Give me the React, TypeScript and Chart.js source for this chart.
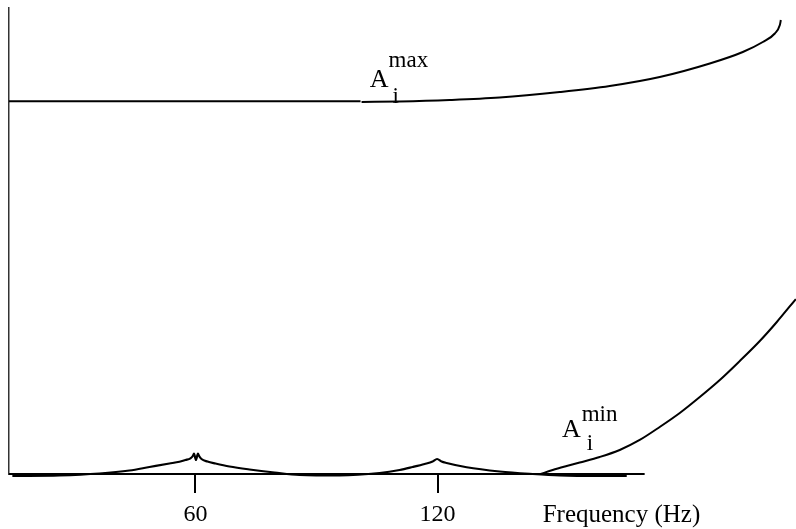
import React, { useEffect, useRef } from "react";
import { Chart, registerables } from "chart.js";

Chart.register(...registerables);

// ---- data (frequency in Hz, amplitude in arbitrary units 0..100) ----
const X_MIN = 13.8;
const X_MAX = 208.8;
const Y_MIN = 0;
const Y_MAX = 100;

const TICK_VALUES = [60, 120, 165.55];
const TICK_LABELS = ["60", "120", "Frequency (Hz)"];

const AXIS_HZ = [13.8, 171.3];
const AXIS_VAL = [0, 0];

const AMAX_FLAT_HZ = [13.8, 100.9];
const AMAX_FLAT_VAL = [80.0, 80.0];

const AMAX_CURVE_HZ = [101.16, 110.58, 122.97, 135.37, 150.25, 162.64, 175.04, 187.44, 195.62, 200.58, 203.55, 204.8, 205.04];
const AMAX_CURVE_VAL = [79.83, 79.94, 80.26, 80.79, 81.97, 83.26, 85.19, 88.09, 90.56, 92.7, 94.53, 96.35, 97.42];

const AMIN_LOW_HZ = [14.63, 26.28, 36.2, 43.64, 48.6, 53.55, 56.03, 57.52, 58.76, 59.38, 59.63, 60.12, 60.62, 60.87, 61.49, 62.98, 64.96, 68.43, 73.39, 79.59, 85.78, 95.7, 105.62, 110.58, 113.8, 116.78, 118.76, 119.87, 120.99, 122.23, 127.19, 135.37, 143.55, 150.25, 160.16, 166.86];
const AMIN_LOW_VAL = [-0.43, -0.32, 0.11, 0.75, 1.5, 2.25, 2.64, 3.0, 3.37, 3.91, 4.4, 3.0, 4.4, 3.91, 3.22, 2.68, 2.25, 1.61, 0.97, 0.32, -0.21, -0.32, 0.21, 0.86, 1.5, 2.15, 2.68, 3.22, 2.68, 2.36, 1.44, 0.54, 0.0, -0.32, -0.43, -0.43];

const AMIN_RISE_HZ = [145.54, 148.51, 151.98, 155.21, 160.16, 165.12, 170.08, 175.04, 180.0, 184.96, 189.92, 194.87, 199.83, 204.05, 208.76];
const AMIN_RISE_VAL = [0.0, 0.86, 1.72, 2.47, 3.65, 5.15, 7.3, 10.09, 13.09, 16.52, 20.17, 24.25, 28.54, 32.62, 37.55];

const FONT = '"Liberation Serif", "Times New Roman", serif';

const pts = (xs: number[], ys: number[]) => xs.map((x, i) => ({ x, y: ys[i] }));

const labelPlugin = {
  id: "curveLabels",
  afterDatasetsDraw(chart: any) {
    const { ctx, scales } = chart;
    const xs = scales.x;
    const ys = scales.y;
    const items: [string, number, number, number][] = [
      ["A", 103.2, 83.05, 26],
      ["max", 107.85, 87.34, 23],
      ["i", 108.84, 79.61, 23],
      ["A", 150.8, 7.94, 26],
      ["min", 155.7, 11.37, 23],
      ["i", 156.94, 5.15, 23],
    ];
    ctx.save();
    ctx.fillStyle = "#000";
    ctx.textAlign = "left";
    ctx.textBaseline = "alphabetic";
    for (const [t, hx, v, size] of items) {
      ctx.font = `${size}px ${FONT}`;
      ctx.fillText(t, xs.getPixelForValue(hx), ys.getPixelForValue(v));
    }
    ctx.restore();
  },
};

export default function App() {
  const ref = useRef<HTMLCanvasElement | null>(null);

  useEffect(() => {
    document.body.style.margin = "0";
    const canvas = ref.current;
    if (!canvas) return;
    const lineDs = (data: any, width = 2) => ({
      data,
      borderColor: "#000",
      borderWidth: width,
      pointRadius: 0,
      fill: false,
      cubicInterpolationMode: "monotone" as const,
      clip: false as any,
    });
    const chart = new Chart(canvas, {
      type: "line",
      data: {
        datasets: [
          lineDs(pts(AXIS_HZ, AXIS_VAL), 1.8),
          lineDs(pts(AMAX_FLAT_HZ, AMAX_FLAT_VAL)),
          lineDs(pts(AMAX_CURVE_HZ, AMAX_CURVE_VAL)),
          lineDs(pts(AMIN_LOW_HZ, AMIN_LOW_VAL), 2.2),
          lineDs(pts(AMIN_RISE_HZ, AMIN_RISE_VAL)),
        ],
      },
      options: {
        animation: false,
        responsive: true,
        maintainAspectRatio: false,
        layout: { padding: { left: 9, top: 8, right: 0, bottom: 0 } },
        plugins: { legend: { display: false }, tooltip: { enabled: false } },
        scales: {
          x: {
            type: "linear",
            min: X_MIN,
            max: X_MAX,
            afterBuildTicks: (scale: any) => {
              scale.ticks = TICK_VALUES.map((v) => ({ value: v }));
            },
            afterFit: (scale: any) => {
              scale.height = 55;
            },
            border: { display: false },
            grid: {
              display: true,
              drawOnChartArea: false,
              drawTicks: true,
              tickLength: 19,
              lineWidth: 2,
              tickColor: (c: any) => (c.index < 2 ? "#000" : "rgba(0,0,0,0)"),
              color: (c: any) => (c.index < 2 ? "#000" : "rgba(0,0,0,0)"),
            },
            ticks: {
              autoSkip: false,
              maxRotation: 0,
              padding: 7,
              color: "#000",
              font: (c: any) => ({ family: FONT, size: c.index === 2 ? 25 : 24 }),
              callback: (_v: any, i: number) => TICK_LABELS[i],
            },
          },
          y: {
            type: "linear",
            min: Y_MIN,
            max: Y_MAX,
            afterFit: (scale: any) => {
              scale.width = 0;
            },
            border: { display: true, color: "#333", width: 1.5 },
            grid: { display: false, drawTicks: false },
            ticks: { display: false },
          },
        },
      },
      plugins: [labelPlugin],
    });
    return () => chart.destroy();
  }, []);

  return (
    <div style={{ position: "relative", width: 796, height: 529, background: "#fff" }}>
      <canvas ref={ref} />
    </div>
  );
}
